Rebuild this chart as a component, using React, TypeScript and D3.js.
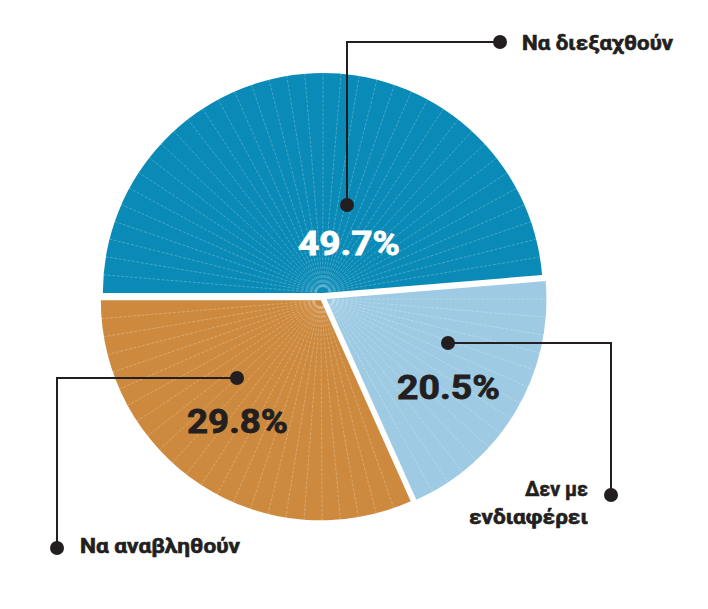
import React from "react";
import * as d3 from "d3";

const categories = ["Να διεξαχθούν", "Δεν με ενδιαφέρει", "Να αναβληθούν"];
const values = [49.7, 20.5, 29.8];
const sliceValues = [48.7, 19.6, 31.7];
const valueLabels = ["49.7%", "20.5%", "29.8%"];
const colors = ["#0a8ab6", "#9ecbe3", "#cd8a3e"];
const pctColors = ["#ffffff", "#231f20", "#231f20"];

const W = 708;
const H = 609;
const CX = 323;
const CY = 297;
const R = 220;
const EXPLODE = 4;
const INK = "#231f20";

const callouts = [
  { dot: [347, 205], path: [[347, 205], [347, 42], [500, 42]], end: [500, 42], label: [[522, 50]], labelW: [151], anchor: "start", pct: [349, 255], pctW: 102 },
  { dot: [448, 343], path: [[448, 343], [611, 343], [611, 495]], end: [611, 495], label: [[588, 496], [588, 524]], labelW: [63, 119], anchor: "end", pct: [448.5, 399], pctW: 103 },
  { dot: [237, 378], path: [[237, 378], [57, 378], [57, 548]], end: [57, 548], label: [[80, 553]], labelW: [160], anchor: "start", pct: [237.5, 433], pctW: 101 },
];
const labelLines = [["Να διεξαχθούν"], ["Δεν με", "ενδιαφέρει"], ["Να αναβληθούν"]];

export default function App() {
  const pie = d3
    .pie<number>()
    .sort(null)
    .startAngle(-Math.PI / 2)
    .endAngle((3 * Math.PI) / 2)(sliceValues);
  const arc = d3.arc<d3.PieArcDatum<number>>().innerRadius(0).outerRadius(R);
  const line = d3.line();
  const stripeStep = (4.7 * Math.PI) / 180;

  return (
    <svg width={W} height={H} style={{ position: "absolute", left: 0, top: 0 }}>
      <rect width={W} height={H} fill="#fff" />
      {pie.map((p, i) => {
        const mid = (p.startAngle + p.endAngle) / 2;
        const dx = Math.sin(mid) * EXPLODE;
        const dy = -Math.cos(mid) * EXPLODE;
        const span = p.endAngle - p.startAngle;
        const n = Math.max(1, Math.round(span / stripeStep));
        const stripes = d3.range(1, n).map((k) => p.startAngle + (span * k) / n);
        return (
          <g key={i} transform={`translate(${CX + dx},${CY + dy})`}>
            <path d={arc(p) || ""} fill={colors[i]} />
            {stripes.map((a, k) => (
              <line
                key={k}
                x1={Math.sin(a) * 6}
                y1={-Math.cos(a) * 6}
                x2={Math.sin(a) * R}
                y2={-Math.cos(a) * R}
                stroke="#ffffff"
                strokeOpacity={0.3}
                strokeWidth={0.8}
                strokeDasharray="3 1.5"
              />
            ))}
          </g>
        );
      })}
      {callouts.map((c, i) => (
        <g key={"c" + i}>
          <path
            d={line(c.path as [number, number][]) || ""}
            fill="none"
            stroke={INK}
            strokeWidth={2}
          />
          <circle cx={c.dot[0]} cy={c.dot[1]} r={7} fill={INK} />
          <circle cx={c.end[0]} cy={c.end[1]} r={7} fill={INK} />
          {labelLines[i].map((t, j) => (
            <text
              key={j}
              x={c.label[j][0]}
              y={c.label[j][1]}
              textAnchor={c.anchor as any}
              fontFamily="Roboto, 'Noto Sans', sans-serif"
              fontWeight={700}
              fontSize={20}
              fill={INK}
              stroke={INK}
              strokeWidth={0.6}
              textLength={c.labelW[j]}
              lengthAdjust="spacingAndGlyphs"
            >
              {t}
            </text>
          ))}
          <text
            x={c.pct[0]}
            y={c.pct[1]}
            textAnchor="middle"
            fontFamily="Roboto, 'Noto Sans', sans-serif"
            fontWeight={700}
            fontSize={33}
            fill={pctColors[i]}
            stroke={pctColors[i]}
            strokeWidth={0.8}
            textLength={c.pctW}
            lengthAdjust="spacingAndGlyphs"
          >
            {valueLabels[i]}
          </text>
        </g>
      ))}
    </svg>
  );
}
